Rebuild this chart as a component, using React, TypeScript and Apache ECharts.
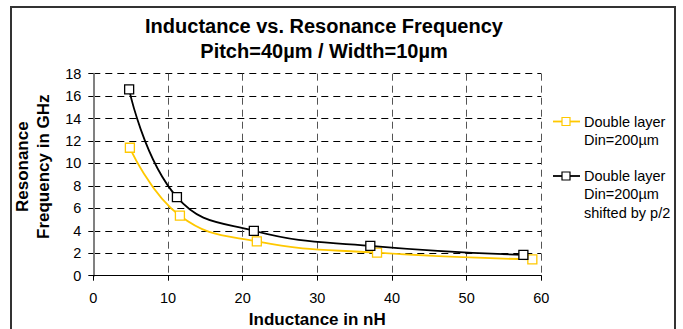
import React, { useEffect, useRef } from "react";
import * as echarts from "echarts";

const titleLines = ["Inductance vs. Resonance Frequency", "Pitch=40µm / Width=10µm"];
const xAxisName = "Inductance in nH";
const yAxisName = "Resonance\nFrequency in GHz";

const xMin = 0;
const xMax = 60;
const xStep = 10;
const yMin = 0;
const yMax = 18;
const yStep = 2;

const seriesNames = ["Double layer Din=200µm", "Double layer Din=200µm shifted by p/2"];
const legendLabels = [
  ["Double layer", "Din=200µm"],
  ["Double layer", "Din=200µm", "shifted by p/2"],
];
const seriesColors = ["#FFC800", "#000000"];

const inductanceSingle = [4.9, 11.6, 21.9, 38.0, 58.8];
const frequencySingle = [11.4, 5.35, 3.05, 2.05, 1.45];
const inductanceShifted = [4.8, 11.2, 21.5, 37.1, 57.6];
const frequencyShifted = [16.6, 7.0, 4.0, 2.65, 1.85];

const FONT = "'Liberation Sans', Arial, Helvetica, sans-serif";

export default function App() {
  const ref = useRef<HTMLDivElement>(null);

  useEffect(() => {
    if (!ref.current) return;
    const chart = echarts.init(ref.current, null, { renderer: "svg" });

    const xs = [inductanceSingle, inductanceShifted];
    const ys = [frequencySingle, frequencyShifted];

    const legendGraphics: any[] = [];
    const legendTops = [121.5, 176];
    legendLabels.forEach((lines, i) => {
      const cy = legendTops[i];
      legendGraphics.push({
        type: "line",
        shape: { x1: 553, y1: cy, x2: 580, y2: cy },
        style: { stroke: seriesColors[i], lineWidth: 1.8 },
      });
      legendGraphics.push({
        type: "rect",
        shape: { x: 562, y: cy - 4, width: 8, height: 8 },
        style: { fill: "#fff", stroke: seriesColors[i], lineWidth: 1.2 },
      });
      lines.forEach((t, j) => {
        legendGraphics.push({
          type: "text",
          x: 584,
          y: cy + j * 18.3,
          style: {
            text: t,
            fill: "#000",
            font: `14.5px ${FONT}`,
            textAlign: "left",
            textVerticalAlign: "middle",
          },
        });
      });
    });

    chart.setOption({
      animation: false,
      backgroundColor: "#fff",
      grid: {
        left: 93.3,
        right: 141.7,
        top: 73.7,
        bottom: 53.3,
        containLabel: false,
        outerBoundsMode: "none",
      },
      xAxis: {
        type: "value",
        min: xMin,
        max: xMax,
        interval: xStep,
        name: xAxisName,
        nameLocation: "middle",
        nameGap: 34,
        nameTextStyle: { fontFamily: FONT, fontWeight: "bold", fontSize: 17, color: "#000" },
        axisLine: { lineStyle: { color: "#000", width: 1 } },
        axisTick: { show: true, inside: false, length: 5, lineStyle: { color: "#000" } },
        axisLabel: { fontFamily: FONT, fontSize: 14.5, color: "#000", margin: 15 },
        splitLine: { show: true, lineStyle: { color: "#555", type: [7, 5], width: 1 } },
      },
      yAxis: {
        type: "value",
        min: yMin,
        max: yMax,
        interval: yStep,
        name: yAxisName,
        nameLocation: "middle",
        nameGap: 39,
        nameRotate: 90,
        nameTextStyle: {
          fontFamily: FONT,
          fontWeight: "bold",
          fontSize: 17,
          color: "#000",
          lineHeight: 21,
          padding: [0, 0, 0, 16],
        },
        axisLine: { show: true, lineStyle: { color: "#808080", width: 2 } },
        axisTick: { show: true, inside: false, length: 5, lineStyle: { color: "#000" } },
        axisLabel: { fontFamily: FONT, fontSize: 14.5, color: "#000", margin: 12 },
        splitLine: { show: true, lineStyle: { color: "#000", type: [7, 5], width: 1 } },
      },
      series: seriesNames.map((name, i) => ({
        name,
        type: "line",
        smooth: 0.45,
        data: xs[i].map((x, k) => [x, ys[i][k]]),
        symbol: "rect",
        symbolSize: 9,
        showSymbol: true,
        lineStyle: { color: seriesColors[i], width: 1.8 },
        itemStyle: { color: "#fff", borderColor: seriesColors[i], borderWidth: 1.3 },
        z: 3 + i,
      })),
      graphic: [
        {
          type: "rect",
          shape: { x: 11, y: 7, width: 664, height: 340 },
          style: { fill: "none", stroke: "#333", lineWidth: 2 },
          silent: true,
        },
        ...titleLines.map((t, i) => ({
          type: "text",
          x: 324,
          y: 25.5 + i * 25,
          style: {
            text: t,
            fill: "#000",
            font: `bold 20px ${FONT}`,
            textAlign: "center",
            textVerticalAlign: "middle",
          },
        })),
        ...legendGraphics,
      ],
    });

    return () => chart.dispose();
  }, []);

  return (
    <div
      ref={ref}
      style={{ position: "fixed", left: 0, top: 0, width: 683, height: 329, background: "#fff" }}
    />
  );
}
